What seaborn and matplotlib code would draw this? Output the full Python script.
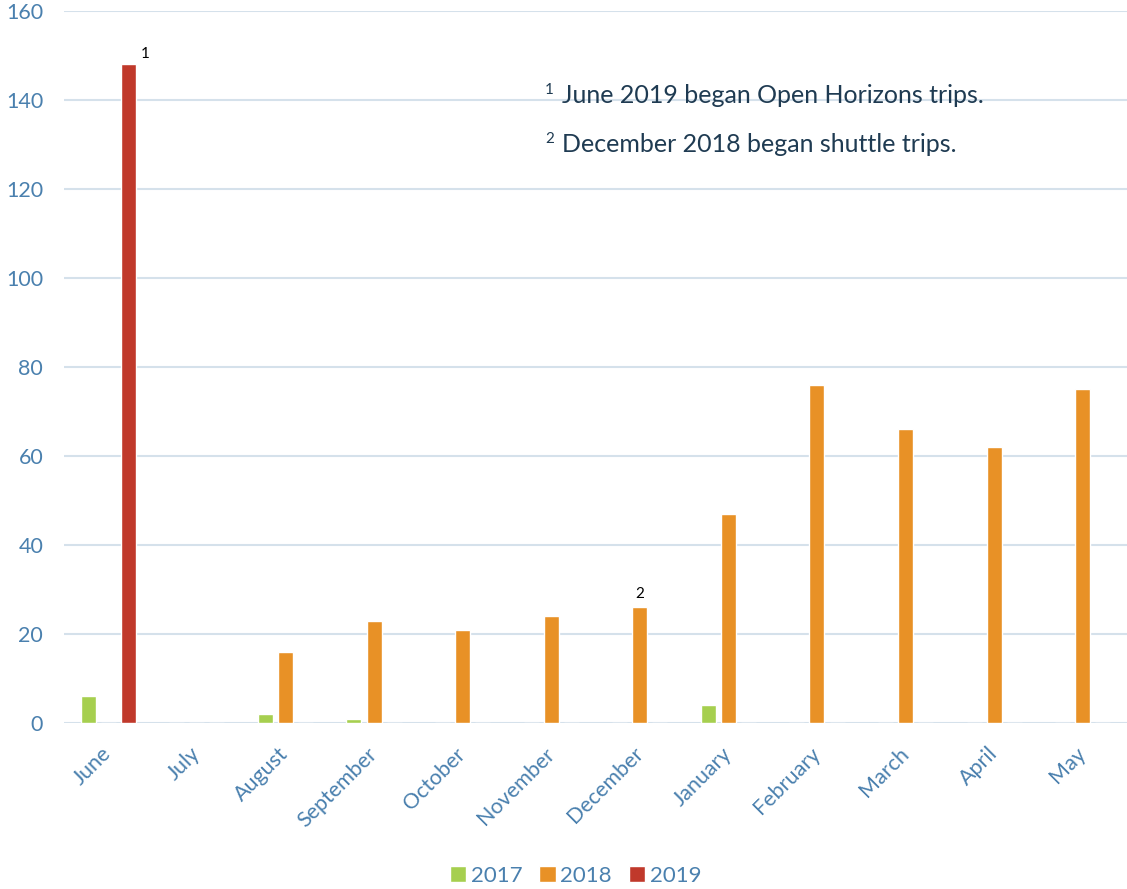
import matplotlib
matplotlib.use('Agg')
import matplotlib.pyplot as plt
import seaborn as sns
import pandas as pd

months = ['June', 'July', 'August', 'September', 'October', 'November',
          'December', 'January', 'February', 'March', 'April', 'May']
years = ['2017', '2018', '2019']
trips_2017 = [6, 0, 2, 1, 0, 0, 0, 4, 0, 0, 0, 0]
trips_2018 = [0, 0, 16, 23, 21, 24, 26, 47, 76, 66, 62, 75]
trips_2019 = [148, 0, 0, 0, 0, 0, 0, 0, 0, 0, 0, 0]
notes = ['June 2019 began Open Horizons trips.',
         'December 2018 began shuttle trips.']

rows = []
for yr, vals in zip(years, [trips_2017, trips_2018, trips_2019]):
    for m, v in zip(months, vals):
        rows.append({'month': m, 'year': yr, 'trips': v})
df = pd.DataFrame(rows)

sns.set_style('white')
plt.rcParams['font.family'] = ['Lato', 'DejaVu Sans']

tick_col = '#4a80ae'
text_col = '#1f3b52'
palette = {'2017': '#a6cf4f', '2018': '#e89126', '2019': '#c0392b'}

fig = plt.figure(figsize=(11.27, 8.89), dpi=100)
ax = fig.add_axes([64 / 1127, 1 - 723 / 889, 1 - 64 / 1127, (723 - 11) / 889])

sns.barplot(data=df, x='month', y='trips', hue='year', palette=palette,
            width=0.68, gap=0.25, ax=ax, legend=True, saturation=1)

ax.set_ylim(0, 160)
ax.set_xlim(-0.5, 11.5)
ax.set_yticks(range(0, 161, 20))
ax.yaxis.grid(True, color='#d5e1eb', linewidth=1.5)
ax.set_axisbelow(True)
for s in ax.spines.values():
    s.set_visible(False)
ax.set_xlabel('')
ax.set_ylabel('')
ax.tick_params(axis='both', colors=tick_col, labelsize=15.5, length=0)
ax.tick_params(axis='y', pad=15)
ax.tick_params(axis='x', pad=20)
plt.setp(ax.get_xticklabels(), rotation=45, ha='right', va='center',
         rotation_mode='anchor')

# superscript markers on bars
ax.text(0.42, 148.8, '1', fontsize=11, color='black', ha='center', va='bottom')
ax.text(6.0, 27.5, '2', fontsize=11, color='black', ha='center', va='bottom')

# footnotes
for i, (note, yv) in enumerate(zip(notes, [141, 130])):
    ax.text(4.93, yv + 1.3, str(i + 1), fontsize=11, color=text_col, va='center')
    ax.text(5.12, yv, note, fontsize=18, color=text_col, va='center')

leg = ax.legend(loc='center', bbox_to_anchor=(0.5 - 20 / 1063, -0.215), ncol=3,
                frameon=False, fontsize=16, handlelength=0.75, handleheight=0.75,
                columnspacing=0.75, handletextpad=0.2)
for t in leg.get_texts():
    t.set_color(tick_col)

fig.savefig('out.png', dpi=100)
